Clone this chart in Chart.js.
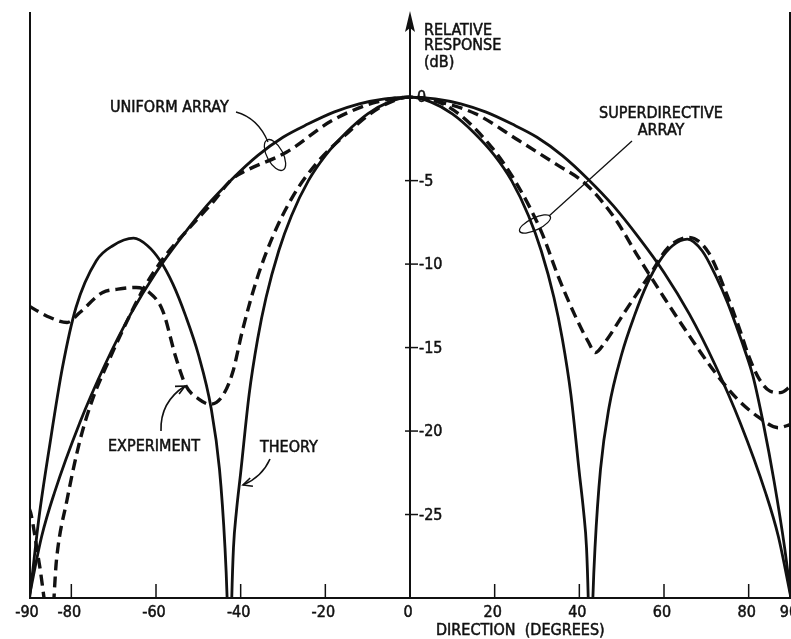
<!DOCTYPE html>
<html>
<head>
<meta charset="utf-8">
<script src="https://cdn.jsdelivr.net/npm/chart.js@4.4.1/dist/chart.umd.min.js"></script>
<style>
  html, body { margin: 0; padding: 0; background: #fff; }
  canvas { display: block; }
</style>
</head>
<body>
<canvas id="chart" width="791" height="639"></canvas>
<script>
// readings: direction (degrees) and relative response (dB)
const uniformTheoryDeg = [-90, -87, -84, -78, -72, -66, -60, -54, -48, -42, -36, -30, -24, -18, -12, -6, 0, 6, 12, 18, 24, 30, 36, 42, 48, 54, 60, 66, 72, 78, 84, 87, 90];
const uniformTheoryDb  = [-30, -26.3, -23.7, -19.5, -16.0, -13.0, -10.5, -8.4, -6.5, -4.9, -3.5, -2.4, -1.6, -0.9, -0.4, -0.1, 0, -0.1, -0.4, -0.9, -1.6, -2.4, -3.5, -4.9, -6.5, -8.4, -10.5, -13.0, -16.0, -19.5, -23.7, -26.3, -30];

const uniformExpDeg = [-90, -89.5, -87.6, -84.8, -83.5, -81, -78, -75, -71, -67, -63, -58.4, -52, -46.6, -42, -38.7, -29.2, -18.4, -8, 0, 8, 15.5, 25.7, 34.4, 41.5, 48.5, 54, 60, 66, 71.5, 77, 82.5, 87, 90];
const uniformExpDb  = [-24.6, -25, -27.9, -32, -27.7, -24.1, -20.6, -18.1, -15.7, -13.5, -11.5, -9.7, -7.8, -6.3, -4.9, -4.4, -3.3, -1.4, -0.3, 0, -0.35, -1.0, -2.6, -4.0, -5.2, -7.3, -9.6, -12.0, -14.3, -16.3, -18.0, -19.2, -19.8, -19.6];

const superTheoryLeftDeg = [-90, -89.4, -87.6, -85.2, -82.1, -78.9, -74.1, -70.2, -65.3, -62, -59, -56, -53, -50, -47, -45, -43.7, -43.2, -42.7];
const superTheoryLeftDb  = [-30.3, -29, -25.1, -21, -16.2, -12.6, -9.8, -8.9, -8.45, -8.9, -9.8, -11.2, -13.1, -15.4, -18.6, -22.3, -27, -30, -35];

const superTheoryMainDeg = [-42.5, -42.1, -41.7, -41, -40, -38, -36, -34, -31, -28, -24, -20, -15, -10, -5, 0, 5, 10, 15, 20, 24, 28, 31, 34, 36, 38, 40, 41, 41.7, 42.1, 42.5];
const superTheoryMainDb  = [-35, -30, -27, -24.8, -22.5, -17.8, -14.5, -12.0, -9.2, -7.1, -5.0, -3.5, -2.1, -1.0, -0.3, 0, -0.3, -1.0, -2.1, -3.5, -5.0, -7.1, -9.2, -12.0, -14.5, -17.8, -22.5, -24.8, -27, -30, -35];

const superTheoryRightDeg = [42.7, 43.2, 43.7, 45, 47, 50, 53, 56, 59, 62, 65.5, 69, 72.4, 75, 77.2, 79, 81, 83.5, 86, 88.5, 90];
const superTheoryRightDb  = [-35, -30, -27, -22.3, -18.6, -15.4, -13.1, -11.2, -9.8, -8.9, -8.5, -9.2, -10.8, -12.3, -13.8, -15.1, -16.7, -19.6, -23, -27, -30];

const superExpDeg = [-90, -89.4, -85, -81, -78, -72.6, -69, -64.7, -61.6, -58.4, -55.3, -52.9, -49.8, -47.2, -44.3, -41.9, -39.6, -36.3, -32.5, -27.8, -22.2, -15, -7, 0, 9.2, 19.3, 25.7, 31.1, 35.1, 39.2, 42, 43.8, 46, 50.9, 57, 61, 65.8, 70.5, 74.5, 78, 80, 82.3, 85, 87.5, 90];
const superExpDb  = [-12.5, -12.6, -13.2, -13.5, -12.9, -11.7, -11.5, -11.4, -11.7, -12.8, -15.6, -17.3, -18.1, -18.4, -17.9, -16.5, -14, -11, -8.4, -6, -4, -2.2, -0.6, 0, -0.6, -3.0, -5.4, -8.1, -10.8, -13.2, -14.6, -15.3, -14.7, -12.8, -10.5, -9, -8.4, -9.3, -11.6, -14.0, -15.5, -16.8, -17.6, -17.7, -17.3];

const xTickValues = [-90, -80, -60, -40, -20, 0, 20, 40, 60, 80, 90];
const yTickValues = [0, -5, -10, -15, -20, -25];

const FONT = '16px "DejaVu Sans Condensed", "DejaVu Sans", sans-serif';
const INK = '#111';

function pts(xs, ys) {
  return xs.map((x, i) => ({ x: x, y: ys[i] }));
}

function solid(xs, ys) {
  return { data: pts(xs, ys), borderColor: INK, borderWidth: 2.8, pointRadius: 0, cubicInterpolationMode: 'monotone' };
}

function dashed(xs, ys) {
  return { data: pts(xs, ys), borderColor: INK, borderWidth: 3.4, borderDash: [11, 6], pointRadius: 0, cubicInterpolationMode: 'monotone' };
}

function label(ctx, text, x, y) {
  ctx.fillText(text, x, y);
  ctx.strokeText(text, x, y);
}

function arrowHead(ctx, fromX, fromY, toX, toY) {
  const ang = Math.atan2(toY - fromY, toX - fromX);
  const len = 10;
  ctx.beginPath();
  ctx.moveTo(toX - len * Math.cos(ang - 0.45), toY - len * Math.sin(ang - 0.45));
  ctx.lineTo(toX, toY);
  ctx.lineTo(toX - len * Math.cos(ang + 0.45), toY - len * Math.sin(ang + 0.45));
  ctx.stroke();
}

const paperAxes = {
  id: 'paperAxes',
  afterDatasetsDraw(chart) {
    const { ctx, chartArea: a, scales: { x, y } } = chart;
    const x0 = x.getPixelForValue(0);
    ctx.save();
    ctx.strokeStyle = INK;
    ctx.fillStyle = INK;
    ctx.lineCap = 'butt';

    // frame: left, right and bottom
    ctx.lineWidth = 2;
    ctx.beginPath();
    ctx.moveTo(a.left + 1, a.top);
    ctx.lineTo(a.left + 1, a.bottom);
    ctx.lineTo(a.right - 1, a.bottom);
    ctx.lineTo(a.right - 1, a.top);
    ctx.stroke();

    // central response axis with arrow
    ctx.beginPath();
    ctx.moveTo(x0, a.bottom);
    ctx.lineTo(x0, a.top + 12);
    ctx.stroke();
    ctx.beginPath();
    ctx.moveTo(x0, a.top - 1);
    ctx.lineTo(x0 - 5, a.top + 20);
    ctx.lineTo(x0, a.top + 16);
    ctx.lineTo(x0 + 5, a.top + 20);
    ctx.closePath();
    ctx.fill();

    // direction ticks, drawn inward from the base line
    ctx.lineWidth = 1.5;
    xTickValues.forEach(v => {
      if (v === 0 || Math.abs(v) === 90) return;
      const px = x.getPixelForValue(v);
      ctx.beginPath();
      ctx.moveTo(px, a.bottom);
      ctx.lineTo(px, a.bottom - 14);
      ctx.stroke();
    });
    // response ticks across the central axis
    yTickValues.forEach(v => {
      if (v === 0) return;
      const py = y.getPixelForValue(v);
      ctx.beginPath();
      ctx.moveTo(x0 - 5, py);
      ctx.lineTo(x0 + 8, py);
      ctx.stroke();
    });

    ctx.font = FONT;
    ctx.lineWidth = 0.5;
    ctx.textBaseline = 'middle';
    ctx.textAlign = 'center';
    xTickValues.forEach(v => {
      label(ctx, String(v), x.getPixelForValue(v) - 2, a.bottom + 15);
    });

    ctx.textAlign = 'left';
    yTickValues.forEach(v => {
      label(ctx, String(v), x0 + (v === 0 ? 7 : 9), y.getPixelForValue(v) + 1);
    });

    // axis titles
    label(ctx, 'RELATIVE', x0 + 14, 31);
    label(ctx, 'RESPONSE', x0 + 14, 46);
    label(ctx, '(dB)', x0 + 14, 63);
    label(ctx, 'DIRECTION  (DEGREES)', 436, 631);

    // curve labels
    label(ctx, 'UNIFORM ARRAY', 110, 108);
    ctx.textAlign = 'center';
    label(ctx, 'SUPERDIRECTIVE', 661, 114);
    label(ctx, 'ARRAY', 661, 131);
    ctx.textAlign = 'left';
    label(ctx, 'EXPERIMENT', 108, 447);
    label(ctx, 'THEORY', 260, 448);

    // leaders and rings
    ctx.lineWidth = 1.3;
    ctx.beginPath();
    ctx.moveTo(236, 112);
    ctx.quadraticCurveTo(258, 118, 268, 142);
    ctx.stroke();
    ctx.beginPath();
    ctx.ellipse(275, 155, 8, 17, -0.49, 0, Math.PI * 2);
    ctx.stroke();

    ctx.beginPath();
    ctx.moveTo(632, 141);
    ctx.lineTo(549, 216);
    ctx.stroke();
    ctx.beginPath();
    ctx.ellipse(535, 224, 17, 6, -0.45, 0, Math.PI * 2);
    ctx.stroke();

    ctx.lineWidth = 1.6;
    ctx.beginPath();
    ctx.moveTo(161, 431);
    ctx.quadraticCurveTo(160, 402, 185, 386);
    ctx.stroke();
    arrowHead(ctx, 170, 394, 185, 386);

    ctx.beginPath();
    ctx.moveTo(270, 459);
    ctx.quadraticCurveTo(262, 477, 243, 485);
    ctx.stroke();
    arrowHead(ctx, 255, 481, 243, 485);

    ctx.restore();
  }
};

new Chart(document.getElementById('chart').getContext('2d'), {
  type: 'line',
  data: {
    datasets: [
      solid(uniformTheoryDeg, uniformTheoryDb),
      dashed(uniformExpDeg, uniformExpDb),
      solid(superTheoryLeftDeg, superTheoryLeftDb),
      solid(superTheoryMainDeg, superTheoryMainDb),
      solid(superTheoryRightDeg, superTheoryRightDb),
      dashed(superExpDeg, superExpDb)
    ]
  },
  options: {
    responsive: false,
    animation: false,
    layout: { padding: { left: 29, right: 0, top: 12, bottom: 41 } },
    plugins: { legend: { display: false }, tooltip: { enabled: false } },
    scales: {
      x: { type: 'linear', min: -90, max: 90, display: false },
      y: { type: 'linear', min: -30, max: 5.1, display: false }
    }
  },
  plugins: [paperAxes]
});
</script>
</body>
</html>
